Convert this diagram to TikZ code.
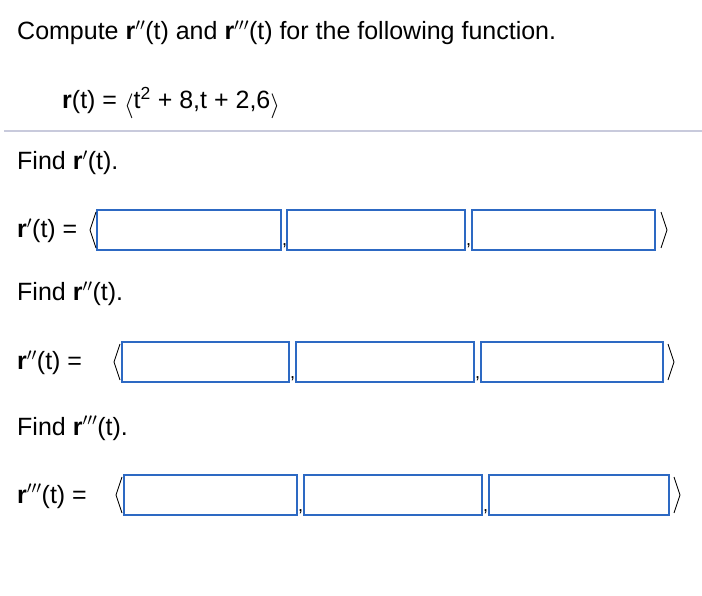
\documentclass[tikz,border=0pt]{standalone}
\usepackage{fontspec}
\setmainfont{Liberation Sans}
\begin{document}
\begin{tikzpicture}[x=1pt,y=-1pt,
  txt/.style={anchor=base west,inner sep=0pt,font=\fontsize{25}{28}\selectfont},
  ansbox/.style={draw={rgb,255:red,45;green,105;blue,195},line width=1.3pt},
  brack/.style={line width=0.9pt,line join=round}]
\useasboundingbox (0,0) rectangle (702,596);
\node[txt] (title) at (17,40) {Compute \textbf{r}$''$(t) and \textbf{r}$'''$(t) for the following function.};
\node[txt] (func) at (62,109) {\textbf{r}(t) = \raisebox{-4pt}{\fontsize{40}{40}\selectfont$\langle$}t\textsuperscript{2} + 8,t + 2,6\raisebox{-4pt}{\fontsize{40}{40}\selectfont$\rangle$}};
\draw[color={rgb,255:red,200;green,202;blue,220},line width=1.2pt] (4,131) -- (702,131);
\foreach \fy/\pr/\ly/\by/\ax/\bxa/\bxb/\bxc/\bxd/\bxe/\bxf/\cx/\nm in {
  170/{$'$}/238/210/90/97/281/287/465/472/655/667/a,
  301/{$''$}/370/342/114/122/289/296/474/481/663/674/b,
  435/{$'''$}/503/475/116/124/297/304/482/489/669/680/c}{
  \node[txt] (find\nm) at (17,\fy) {Find \textbf{r}\pr(t).};
  \node[txt] (lab\nm) at (17,\ly) {\textbf{r}\pr(t) =};
  \draw[ansbox] (\bxa,\by) rectangle (\bxb,\by+40);
  \draw[ansbox] (\bxc,\by) rectangle (\bxd,\by+40);
  \draw[ansbox] (\bxe,\by) rectangle (\bxf,\by+40);
  \draw[brack] (\ax+6,\by+2) -- (\ax,\by+20) -- (\ax+6,\by+38);
  \draw[brack] (\cx-6,\by+2) -- (\cx,\by+20) -- (\cx-6,\by+38);
  \node[txt,font=\fontsize{18}{18}\selectfont] at (\bxb+1,\by+36) {,};
  \node[txt,font=\fontsize{18}{18}\selectfont] at (\bxd+1,\by+36) {,};
}
\end{tikzpicture}
\end{document}
